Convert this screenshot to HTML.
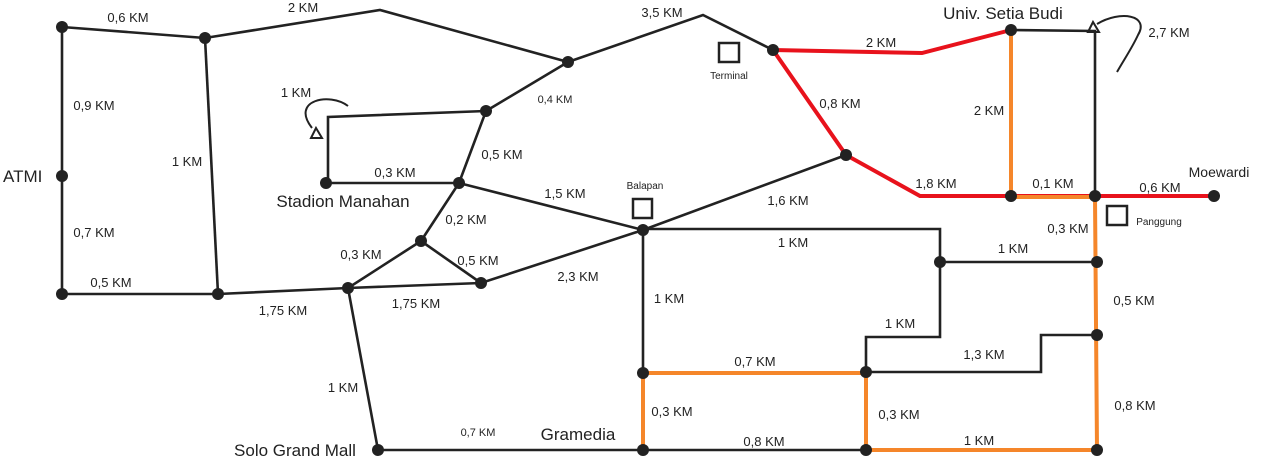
<!DOCTYPE html>
<html><head><meta charset="utf-8"><style>
html,body{margin:0;padding:0;background:#fff;}
svg{display:block;font-family:"Liberation Sans",sans-serif;}
.k{stroke:#222;stroke-width:2.6;fill:none;stroke-linejoin:miter}
.r{stroke:#e8121c;stroke-width:4;fill:none}
.o{stroke:#f5862a;stroke-width:4;fill:none}
text{fill:#222;font-size:13px}
.big{font-size:17px}
.sm{font-size:10px}
</style></head><body>
<svg width="1261" height="460" viewBox="0 0 1261 460">
<g>
<polyline class="k" points="62,27 205,38 380,10 568,62 703,15 773,50"/>
<polyline class="k" points="62,27 62,294 218,294 348,288 481,283 643,230 846,155"/>
<polyline class="k" points="205,38 218,294"/>
<polyline class="k" points="568,62 486,111 459,183 421,241 348,288 378,450 1097,450"/>
<polyline class="k" points="486,111 328,117 328,183 459,183 643,230"/>
<polyline class="k" points="421,241 481,283"/>
<polyline class="k" points="643,230 643,450"/>
<polyline class="k" points="643,229 940,229 940,337 866,337 866,372 1041,372 1041,335 1097,335"/>
<polyline class="k" points="940,262 1097,262"/>
<polyline class="k" points="1011,30 1095,31 1095,196"/>
</g>
<g>
<polyline class="r" points="773,50 922,53 1011,30"/>
<polyline class="r" points="773,50 846,155 920,196 1215,196"/>
</g>
<g>
<polyline class="o" points="1011,30 1011,197 1095,197 1097,450 866,450 866,373 643,373 643,450"/>
</g>
<g fill="#222">
<circle cx="62" cy="27" r="6"/><circle cx="205" cy="38" r="6"/><circle cx="568" cy="62" r="6"/>
<circle cx="773" cy="50" r="6"/><circle cx="1011" cy="30" r="6"/><circle cx="486" cy="111" r="6"/>
<circle cx="326" cy="183" r="6"/><circle cx="459" cy="183" r="6"/><circle cx="62" cy="176" r="6"/>
<circle cx="846" cy="155" r="6"/><circle cx="1011" cy="196" r="6"/><circle cx="1095" cy="196" r="6"/>
<circle cx="1214" cy="196" r="6"/><circle cx="643" cy="230" r="6"/><circle cx="421" cy="241" r="6"/>
<circle cx="940" cy="262" r="6"/><circle cx="1097" cy="262" r="6"/><circle cx="62" cy="294" r="6"/>
<circle cx="218" cy="294" r="6"/><circle cx="348" cy="288" r="6"/><circle cx="481" cy="283" r="6"/>
<circle cx="1097" cy="335" r="6"/><circle cx="643" cy="373" r="6"/><circle cx="866" cy="372" r="6"/>
<circle cx="378" cy="450" r="6"/><circle cx="643" cy="450" r="6"/><circle cx="866" cy="450" r="6"/>
<circle cx="1097" cy="450" r="6"/>
</g>
<g>
<path d="M348,106 C330,92 290,100 312,128" stroke="#222" stroke-width="2" fill="none"/>
<polygon points="311,138 322,138 316,128" fill="none" stroke="#222" stroke-width="2"/>
<path d="M1097,24 C1120,10 1150,15 1138,35 C1132,48 1125,58 1117,72" stroke="#222" stroke-width="2" fill="none"/>
<polygon points="1088,32 1099,32 1093,22" fill="none" stroke="#222" stroke-width="2"/>
</g>
<g fill="none" stroke="#222" stroke-width="2.5">
<rect x="719" y="43" width="20" height="19"/>
<rect x="633" y="199" width="19" height="19"/>
<rect x="1107" y="206" width="20" height="19"/>
</g>
<g>
<text x="128" y="22" text-anchor="middle">0,6 KM</text>
<text x="303" y="12" text-anchor="middle">2 KM</text>
<text x="662" y="17" text-anchor="middle">3,5 KM</text>
<text x="881" y="47" text-anchor="middle">2 KM</text>
<text x="989" y="115" text-anchor="middle">2 KM</text>
<text x="1169" y="37" text-anchor="middle">2,7 KM</text>
<text x="94" y="110" text-anchor="middle">0,9 KM</text>
<text x="187" y="166" text-anchor="middle">1 KM</text>
<text x="296" y="97" text-anchor="middle">1 KM</text>
<text x="555" y="103" text-anchor="middle" style="font-size:11px">0,4 KM</text>
<text x="840" y="108" text-anchor="middle">0,8 KM</text>
<text x="502" y="159" text-anchor="middle">0,5 KM</text>
<text x="395" y="177" text-anchor="middle">0,3 KM</text>
<text x="565" y="198" text-anchor="middle">1,5 KM</text>
<text x="788" y="205" text-anchor="middle">1,6 KM</text>
<text x="936" y="188" text-anchor="middle">1,8 KM</text>
<text x="1053" y="188" text-anchor="middle">0,1 KM</text>
<text x="1160" y="192" text-anchor="middle">0,6 KM</text>
<text x="1068" y="233" text-anchor="middle">0,3 KM</text>
<text x="94" y="237" text-anchor="middle">0,7 KM</text>
<text x="466" y="224" text-anchor="middle">0,2 KM</text>
<text x="361" y="259" text-anchor="middle">0,3 KM</text>
<text x="478" y="265" text-anchor="middle">0,5 KM</text>
<text x="793" y="247" text-anchor="middle">1 KM</text>
<text x="1013" y="253" text-anchor="middle">1 KM</text>
<text x="578" y="281" text-anchor="middle">2,3 KM</text>
<text x="111" y="287" text-anchor="middle">0,5 KM</text>
<text x="283" y="315" text-anchor="middle">1,75 KM</text>
<text x="416" y="308" text-anchor="middle">1,75 KM</text>
<text x="669" y="303" text-anchor="middle">1 KM</text>
<text x="1134" y="305" text-anchor="middle">0,5 KM</text>
<text x="900" y="328" text-anchor="middle">1 KM</text>
<text x="984" y="359" text-anchor="middle">1,3 KM</text>
<text x="755" y="366" text-anchor="middle">0,7 KM</text>
<text x="343" y="392" text-anchor="middle">1 KM</text>
<text x="1135" y="410" text-anchor="middle">0,8 KM</text>
<text x="672" y="416" text-anchor="middle">0,3 KM</text>
<text x="899" y="419" text-anchor="middle">0,3 KM</text>
<text x="478" y="436" text-anchor="middle" style="font-size:11px">0,7 KM</text>
<text x="764" y="446" text-anchor="middle">0,8 KM</text>
<text x="979" y="445" text-anchor="middle">1 KM</text>
</g>
<g>
<text class="big" x="1003" y="19" text-anchor="middle">Univ. Setia Budi</text>
<text class="big" x="3" y="182">ATMI</text>
<text class="big" x="343" y="207" text-anchor="middle">Stadion Manahan</text>
<text class="big" x="1219" y="177" text-anchor="middle" style="font-size:14px">Moewardi</text>
<text class="big" x="295" y="456" text-anchor="middle">Solo Grand Mall</text>
<text class="big" x="578" y="440" text-anchor="middle">Gramedia</text>
<text class="sm" x="729" y="79" text-anchor="middle">Terminal</text>
<text class="sm" x="645" y="189" text-anchor="middle">Balapan</text>
<text class="sm" x="1159" y="225" text-anchor="middle">Panggung</text>
</g>
</svg>
</body></html>
